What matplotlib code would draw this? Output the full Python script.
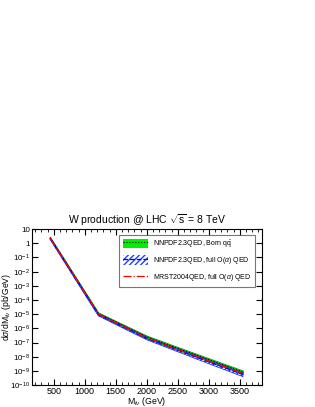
import numpy as np
import matplotlib
matplotlib.use("Agg")
import matplotlib.pyplot as plt
from matplotlib.patches import Patch
from matplotlib.lines import Line2D

plt.rcParams["font.family"] = ["Liberation Sans", "DejaVu Sans"]
plt.rcParams["mathtext.fontset"] = "custom"
plt.rcParams["mathtext.rm"] = "Liberation Sans"
plt.rcParams["mathtext.it"] = "Liberation Sans:italic"
plt.rcParams["mathtext.bf"] = "Liberation Sans:bold"

# invariant mass points (GeV) and cross sections (pb/GeV)
mass = [440, 1218, 1600, 2000, 2500, 3000, 3550]
nn_born = [2.5, 1.12e-5, 1.74e-6, 2.5e-7, 3.9e-8, 6.2e-9, 8.3e-10]
nn_born_err = [0.15, 0.18, 0.2, 0.22, 0.24, 0.26, 0.28]
nn_qed = [2.25, 0.93e-5, 1.41e-6, 2.0e-7, 2.95e-8, 4.4e-9, 5.6e-10]
nn_qed_err = [0.15, 0.18, 0.2, 0.22, 0.24, 0.27, 0.3]
mrst_qed = [2.35, 1.0e-5, 1.55e-6, 2.2e-7, 3.3e-8, 5.0e-9, 6.6e-10]

fig = plt.figure(figsize=(3.15, 4.07), dpi=100)
ax = fig.add_axes([0.1, 0.054, 0.732, 0.383])

x = np.array(mass)
b = np.array(nn_born); be = np.array(nn_born_err)
q = np.array(nn_qed); qe = np.array(nn_qed_err)
m = np.array(mrst_qed)

ax.fill_between(x, b * (1 - be), b * (1 + be), color="#00dd00", lw=0.6,
                edgecolor="#00aa00", zorder=1)
ax.plot(x, b, color="black", ls=":", lw=0.8, zorder=3)
ax.fill_between(x, q * (1 - qe), q * (1 + qe), facecolor="none", edgecolor="#1030ff",
                hatch="//////", lw=0.6, zorder=2)
ax.plot(x, q, color="#0000ff", ls="--", lw=1.0, zorder=4)
ax.plot(x, m, color="#ff0000", ls="-.", lw=1.0, zorder=5)

ax.set_yscale("log")
ax.set_xlim(140, 3860)
ax.set_ylim(1e-10, 10)
ax.set_xticks([500, 1000, 1500, 2000, 2500, 3000, 3500])
ax.set_xticks(np.arange(200, 3900, 100), minor=True)
ax.set_yticks([10.0 ** k for k in range(-10, 2)])
ax.set_yticklabels(["$10^{-%d}$" % k for k in range(10, 0, -1)] + ["1", "10"])
ax.tick_params(which="both", direction="in", top=True, right=True, labelsize=6.5, pad=1.5)
ax.tick_params(axis="y", labelsize=5.8, pad=1)
ax.tick_params(which="major", length=4)
ax.tick_params(which="minor", length=2)
ax.yaxis.set_minor_locator(matplotlib.ticker.LogLocator(base=10, subs=np.arange(2, 10)))
ax.yaxis.set_minor_formatter(matplotlib.ticker.NullFormatter())

ax.set_title(r"W production @ LHC $\sqrt{\rm s}$ = 8 TeV", fontsize=7.5, pad=4)
ax.set_xlabel(r"M$_{l\nu}$ (GeV)", fontsize=6.3, labelpad=-1)
ax.xaxis.set_label_coords(0.5, -0.064)
ax.set_ylabel(r"d$\sigma$/dM$_{l\nu}$ (pb/GeV)", fontsize=6.2)
ax.yaxis.set_label_coords(-0.08, 0.5)

h1 = (Patch(facecolor="#00ee00", lw=0), Line2D([], [], color="black", ls=":", lw=0.8))
h2 = (Patch(facecolor="none", edgecolor="#2040ff", hatch="//////", lw=0),
      Line2D([], [], color="#0000ff", ls="--", lw=0.9))
h3 = Line2D([], [], color="#ff0000", ls="-.", lw=0.9)
leg = ax.legend([h1, h2, h3],
                [r"NNPDF2.3QED, Born q$\bar{\rm q}$",
                 r"NNPDF2.3QED, full O($\alpha$) QED",
                 r"MRST2004QED, full O($\alpha$) QED"],
                loc="upper right", fontsize=5, frameon=True, fancybox=False,
                edgecolor="#555555", handlelength=3.6, handleheight=1.8,
                labelspacing=0.8, borderpad=0.5, bbox_to_anchor=(0.985, 0.985))
leg.get_frame().set_linewidth(0.8)

fig.savefig("out.png", dpi=100)
